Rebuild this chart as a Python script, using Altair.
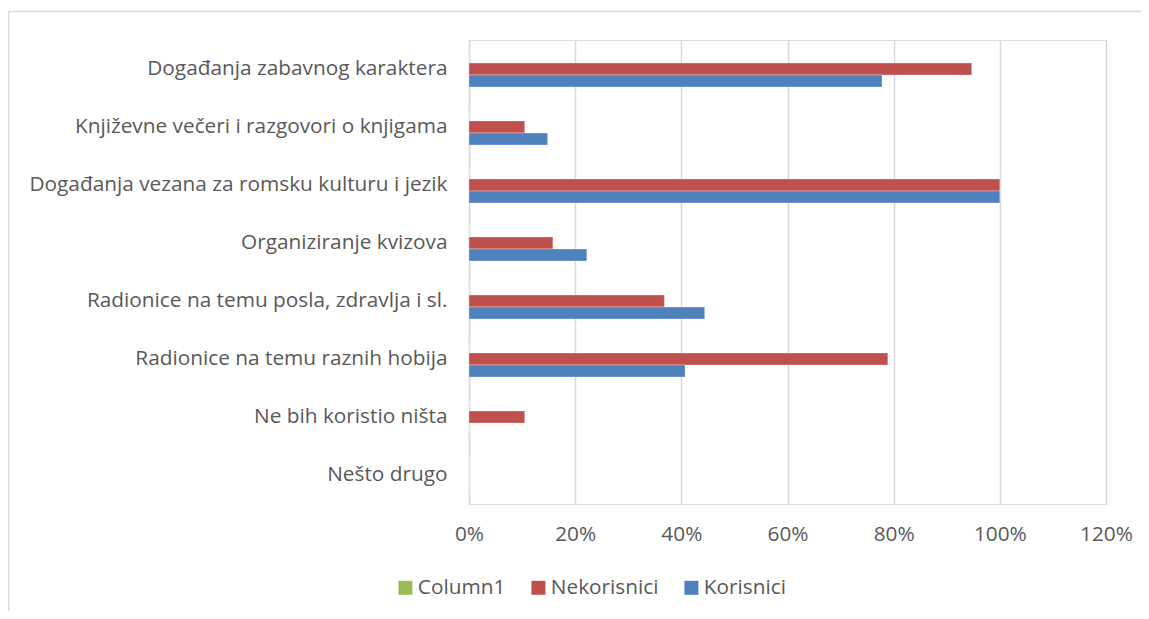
import altair as alt
import pandas as pd

categories = [
    "Događanja zabavnog karaktera",
    "Književne večeri i razgovori o knjigama",
    "Događanja vezana za romsku kulturu i jezik",
    "Organiziranje kvizova",
    "Radionice na temu posla, zdravlja i sl.",
    "Radionice na temu raznih hobija",
    "Ne bih koristio ništa",
    "Nešto drugo",
]
series = ["Column1", "Nekorisnici", "Korisnici"]
colors = ["#9BBB59", "#C0504D", "#4F81BD"]
column1 = [0, 0, 0, 0, 0, 0, 0, 0]
nekorisnici = [0.947, 0.105, 1.0, 0.158, 0.368, 0.789, 0.105, 0.0]
korisnici = [0.778, 0.148, 1.0, 0.222, 0.444, 0.407, 0.0, 0.0]
x_ticks = [0, 0.2, 0.4, 0.6, 0.8, 1.0, 1.2]

rows = []
for name, vals in zip(series, [column1, nekorisnici, korisnici]):
    for c, v in zip(categories, vals):
        rows.append({"cat": c, "series": name, "value": v})
df = pd.DataFrame(rows)

FONT = "Open Sans"
FS = 20.8
TXT = "#595959"
GRID = "#d9d9d9"

bars = alt.Chart(df).mark_bar(stroke="white", strokeWidth=0.5, strokeOpacity=0.6).encode(
    y=alt.Y("cat:N", sort=categories, title=None,
            scale=alt.Scale(paddingInner=0.379, paddingOuter=0.1895),
            axis=alt.Axis(labelFont=FONT, labelFontSize=FS, labelColor=TXT,
                          labelPadding=22, ticks=False, domain=True,
                          domainColor=GRID, domainWidth=1.5, labelLimit=600)),
    yOffset=alt.YOffset("series:N", sort=series, scale=alt.Scale(domain=series)),
    x=alt.X("value:Q", title=None,
            scale=alt.Scale(domain=[0, 1.2], nice=False),
            axis=alt.Axis(values=x_ticks, format=".0%", labelFont=FONT,
                          labelFontSize=FS, labelColor=TXT, labelPadding=20,
                          labelFlush=False,
                          ticks=False, domain=False, grid=True, gridColor=GRID,
                          gridWidth=1.5)),
    color=alt.Color("series:N", sort=series,
                    scale=alt.Scale(domain=series, range=colors),
                    legend=alt.Legend(title=None, orient="none", direction="horizontal",
                                      legendX=-74, legendY=537,
                                      symbolType="square", symbolSize=196,
                                      symbolStrokeWidth=0, symbolOpacity=1,
                                      labelFont=FONT, labelFontSize=FS,
                                      labelColor=TXT, columnPadding=22,
                                      labelOffset=2)),
)

edge = pd.DataFrame({"a": [0]})
top_line = alt.Chart(edge).mark_rule(stroke=GRID, strokeWidth=1.5).encode(
    x=alt.value(-460.5), x2=alt.value(700), y=alt.value(-28.5),
)
left_line = alt.Chart(edge).mark_rule(stroke=GRID, strokeWidth=1.5).encode(
    x=alt.value(-460.5), y=alt.value(-28.5), y2=alt.value(700),
)

chart = alt.layer(top_line, left_line, bars).properties(
    width=637, height=464,
    autosize=alt.AutoSizeParams(type="none"),
    padding={"left": 461, "top": 32, "right": 35, "bottom": 107},
).configure_view(stroke=None).configure(background="white")

chart.save("out.html", embed_options={"renderer": "svg", "actions": False})
